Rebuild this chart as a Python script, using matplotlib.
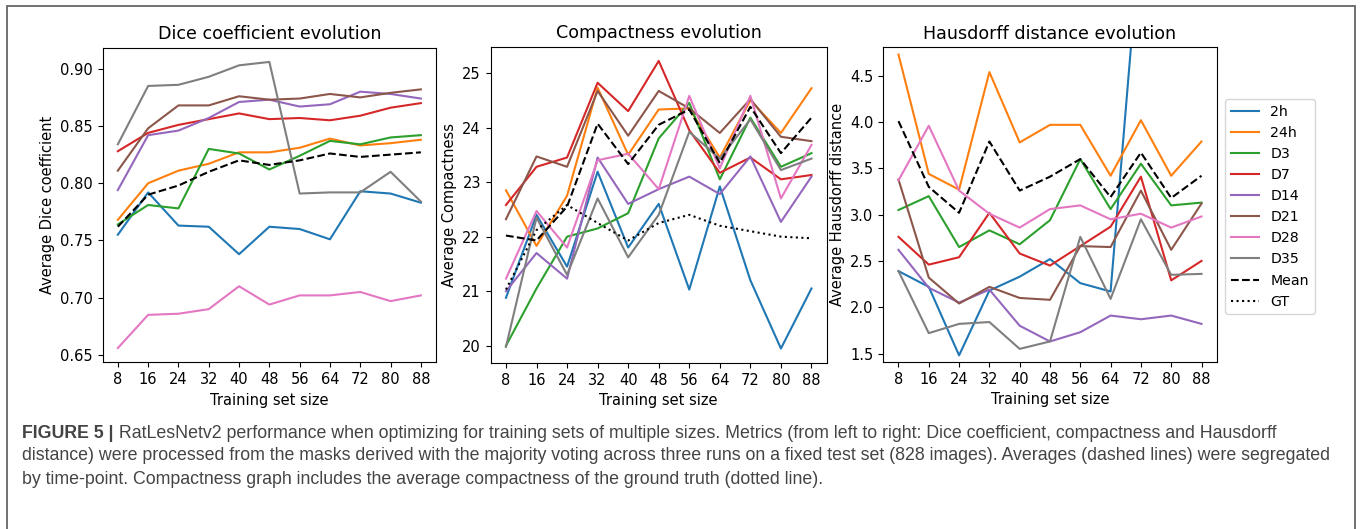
import matplotlib
matplotlib.use("Agg")
import matplotlib.pyplot as plt
from matplotlib.patches import Rectangle

plt.rcParams['font.family'] = ['DejaVu Sans']
plt.rcParams['font.size'] = 10.5

sizes = [8, 16, 24, 32, 40, 48, 56, 64, 72, 80, 88]
groups = ["2h", "24h", "D3", "D7", "D14", "D21", "D28", "D35"]
colors = ["#1f77b4", "#ff7f0e", "#2ca02c", "#d62728", "#9467bd", "#8c564b", "#e377c2", "#7f7f7f"]

# ==========================
# DICE
# ==========================
dice_2h = [0.755, 0.792, 0.763, 0.762, 0.738, 0.762, 0.760, 0.751, 0.793, 0.791, 0.783]
dice_24h = [0.768, 0.800, 0.811, 0.817, 0.827, 0.827, 0.831, 0.839, 0.833, 0.835, 0.838]
dice_d3 = [0.764, 0.781, 0.778, 0.830, 0.826, 0.812, 0.824, 0.837, 0.834, 0.840, 0.842]
dice_d7 = [0.828, 0.844, 0.851, 0.856, 0.861, 0.856, 0.857, 0.855, 0.859, 0.866, 0.870]
dice_d14 = [0.794, 0.842, 0.846, 0.857, 0.871, 0.873, 0.867, 0.869, 0.880, 0.878, 0.874]
dice_d21 = [0.811, 0.848, 0.868, 0.868, 0.876, 0.873, 0.874, 0.878, 0.875, 0.879, 0.882]
dice_d28 = [0.656, 0.685, 0.686, 0.690, 0.710, 0.694, 0.702, 0.702, 0.705, 0.697, 0.702]
dice_d35 = [0.834, 0.885, 0.886, 0.893, 0.903, 0.906, 0.791, 0.792, 0.792, 0.810, 0.784]
dice_mean = [0.762, 0.790, 0.798, 0.810, 0.820, 0.816, 0.820, 0.826, 0.823, 0.825, 0.827]

# ==========================
# COMPACTNESS
# ==========================
comp_2h = [20.88, 22.40, 21.45, 23.19, 21.80, 22.60, 21.03, 22.92, 21.20, 19.95, 21.05]
comp_24h = [22.85, 21.83, 22.75, 24.73, 23.50, 24.33, 24.35, 23.45, 24.50, 23.90, 24.72]
comp_d3 = [20.00, 21.05, 22.00, 22.15, 22.43, 23.80, 24.45, 23.05, 24.18, 23.28, 23.53]
comp_d7 = [22.58, 23.28, 23.45, 24.82, 24.30, 25.22, 23.95, 23.17, 23.45, 23.05, 23.13]
comp_d14 = [21.00, 21.70, 21.23, 23.45, 22.60, 22.87, 23.10, 22.78, 23.47, 22.27, 23.10]
comp_d21 = [22.32, 23.47, 23.28, 24.67, 23.85, 24.67, 24.35, 23.90, 24.52, 23.83, 23.75]
comp_d28 = [21.23, 22.47, 21.80, 23.40, 23.52, 22.87, 24.58, 23.25, 24.58, 22.70, 23.68]
comp_d35 = [19.98, 22.35, 21.30, 22.70, 21.62, 22.40, 23.92, 23.43, 24.15, 23.22, 23.43]
comp_mean = [22.02, 21.93, 22.55, 24.07, 23.33, 24.05, 24.33, 23.35, 24.38, 23.53, 24.18]
comp_gt = [21.03, 22.12, 22.58, 22.25, 21.93, 22.25, 22.40, 22.20, 22.10, 22.00, 21.97]

# ==========================
# HAUSDORFF
# ==========================
haus_2h = [2.39, 2.22, 1.48, 2.18, 2.33, 2.52, 2.26, 2.17, 6.10, 5.90, 6.00]
haus_24h = [4.73, 3.44, 3.27, 4.54, 3.78, 3.97, 3.97, 3.42, 4.02, 3.42, 3.79]
haus_d3 = [3.05, 3.20, 2.65, 2.83, 2.68, 2.94, 3.60, 3.06, 3.55, 3.10, 3.13]
haus_d7 = [2.76, 2.46, 2.54, 3.02, 2.58, 2.45, 2.66, 2.87, 3.41, 2.29, 2.50]
haus_d14 = [2.62, 2.21, 2.05, 2.19, 1.80, 1.63, 1.73, 1.91, 1.87, 1.91, 1.82]
haus_d21 = [3.38, 2.32, 2.04, 2.22, 2.10, 2.08, 2.66, 2.65, 3.26, 2.62, 3.12]
haus_d28 = [3.37, 3.96, 3.26, 3.01, 2.86, 3.06, 3.10, 2.95, 3.01, 2.86, 2.98]
haus_d35 = [2.39, 1.72, 1.82, 1.84, 1.55, 1.63, 2.76, 2.09, 2.95, 2.35, 2.36]
haus_mean = [4.01, 3.30, 3.02, 3.79, 3.26, 3.41, 3.60, 3.19, 3.67, 3.18, 3.42]

dice = [dice_2h, dice_24h, dice_d3, dice_d7, dice_d14, dice_d21, dice_d28, dice_d35]
comp = [comp_2h, comp_24h, comp_d3, comp_d7, comp_d14, comp_d21, comp_d28, comp_d35]
haus = [haus_2h, haus_24h, haus_d3, haus_d7, haus_d14, haus_d21, haus_d28, haus_d35]

fig = plt.figure(figsize=(13.6, 5.29), dpi=100)

ax1 = fig.add_axes([0.0755, 0.315, 0.2451, 0.595])
ax2 = fig.add_axes([0.3608, 0.314, 0.2471, 0.598])
ax3 = fig.add_axes([0.6495, 0.316, 0.2451, 0.595])

for ys, c, g in zip(dice, colors, groups):
    ax1.plot(sizes, ys, color=c, lw=1.5, label=g)
ax1.plot(sizes, dice_mean, color="black", ls="--", lw=1.5, label="Mean")
ax1.set_title("Dice coefficient evolution")
ax1.set_ylabel("Average Dice coefficient")

for ys, c, g in zip(comp, colors, groups):
    ax2.plot(sizes, ys, color=c, lw=1.5, label=g)
ax2.plot(sizes, comp_mean, color="black", ls="--", lw=1.5, label="Mean")
ax2.plot(sizes, comp_gt, color="black", ls=":", lw=1.5, label="GT")
ax2.set_title("Compactness evolution")
ax2.set_ylabel("Average Compactness")

for ys, c, g in zip(haus, colors, groups):
    ax3.plot(sizes, ys, color=c, lw=1.5, label=g)
ax3.plot(sizes, haus_mean, color="black", ls="--", lw=1.5, label="Mean")
ax3.set_ylim(1.41, 4.81)
ax3.set_title("Hausdorff distance evolution")
ax3.set_ylabel("Average Hausdorff distance")

for ax in (ax1, ax2, ax3):
    ax.set_xticks(sizes)
    ax.set_xlabel("Training set size")

handles, labels = ax2.get_legend_handles_labels()
fig.legend(handles, labels, loc="upper left", bbox_to_anchor=(0.9007, 0.8125),
           borderaxespad=0, fontsize=10.2, framealpha=0.8)

# frame around the whole figure
fig.patches.append(Rectangle((0.0052, -0.05), 0.9911, 1.0387, transform=fig.transFigure,
                             fill=False, edgecolor="#666666", lw=1.3))

# ==========================
# CAPTION
# ==========================
cap_kw = dict(family="Liberation Sans", fontsize=12.8, color="#444444", va="center")
bold = fig.text(22 / 1360, 1 - 433 / 529, "FIGURE 5 |", fontweight="bold", **cap_kw)
ax1.annotate(" RatLesNetv2 performance when optimizing for training sets of multiple sizes. "
             "Metrics (from left to right: Dice coefficient, compactness and Hausdorff",
             xy=(1, 0.5), xycoords=bold, annotation_clip=False, **cap_kw)
fig.text(22 / 1360, 1 - 456 / 529,
         "distance) were processed from the masks derived with the majority voting across three runs "
         "on a fixed test set (828 images). Averages (dashed lines) were segregated", **cap_kw)
fig.text(22 / 1360, 1 - 479 / 529,
         "by time-point. Compactness graph includes the average compactness of the ground truth "
         "(dotted line).", **cap_kw)

plt.savefig("out.png", dpi=100)
